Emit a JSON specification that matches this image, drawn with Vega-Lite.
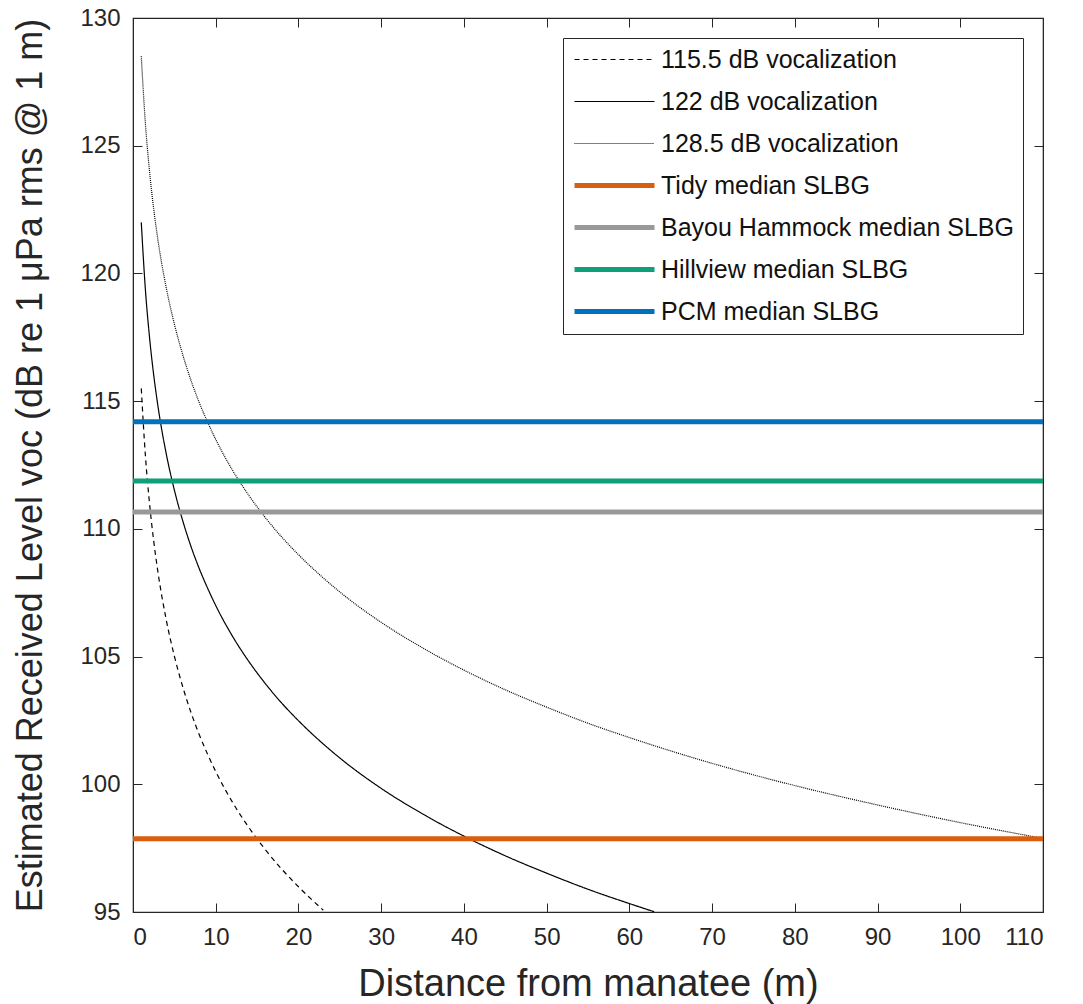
{
  "$schema": "https://vega.github.io/schema/vega-lite/v6.json",
  "width": 910,
  "height": 894,
  "autosize": "none",
  "padding": {"left": 133, "top": 18, "right": 40, "bottom": 92},
  "background": "white",
  "config": {
    "font": "Liberation Sans",
    "view": {"stroke": "#262626", "strokeWidth": 1.2},
    "axis": {
      "grid": false,
      "domainColor": "#262626",
      "tickColor": "#262626",
      "labelColor": "#262626",
      "titleColor": "#262626",
      "labelFontSize": 24,
      "titleFontSize": 36,
      "titleFontWeight": "normal",
      "tickSize": -9,
      "labelPadding": 22
    },
    "legend": {
      "labelFontSize": 25,
      "labelColor": "#111",
      "symbolType": "M-1,0H7",
      "symbolSize": 400,
      "labelOffset": 64,
      "strokeColor": "#262626",
      "fillColor": "white",
      "padding": 9,
      "rowPadding": 16,
      "labelLimit": 500,
      "orient": "top-right",
      "offset": 20
    }
  },
  "datasets": {
    "curves": [
      {"series": "115.5 dB vocalization", "r": 1, "level": 115.5},
      {"series": "115.5 dB vocalization", "r": 1.5, "level": 112.86},
      {"series": "115.5 dB vocalization", "r": 2, "level": 110.99},
      {"series": "115.5 dB vocalization", "r": 2.5, "level": 109.53},
      {"series": "115.5 dB vocalization", "r": 3, "level": 108.34},
      {"series": "115.5 dB vocalization", "r": 4, "level": 106.47},
      {"series": "115.5 dB vocalization", "r": 5, "level": 105.02},
      {"series": "115.5 dB vocalization", "r": 6, "level": 103.83},
      {"series": "115.5 dB vocalization", "r": 7, "level": 102.82},
      {"series": "115.5 dB vocalization", "r": 8, "level": 101.95},
      {"series": "115.5 dB vocalization", "r": 9, "level": 101.19},
      {"series": "115.5 dB vocalization", "r": 10, "level": 100.5},
      {"series": "115.5 dB vocalization", "r": 12, "level": 99.31},
      {"series": "115.5 dB vocalization", "r": 14, "level": 98.31},
      {"series": "115.5 dB vocalization", "r": 16, "level": 97.44},
      {"series": "115.5 dB vocalization", "r": 18, "level": 96.67},
      {"series": "115.5 dB vocalization", "r": 20, "level": 95.99},
      {"series": "115.5 dB vocalization", "r": 23, "level": 95.07},
      {"series": "122  dB vocalization", "r": 1, "level": 122},
      {"series": "122  dB vocalization", "r": 1.5, "level": 119.36},
      {"series": "122  dB vocalization", "r": 2, "level": 117.49},
      {"series": "122  dB vocalization", "r": 2.5, "level": 116.03},
      {"series": "122  dB vocalization", "r": 3, "level": 114.84},
      {"series": "122  dB vocalization", "r": 4, "level": 112.97},
      {"series": "122  dB vocalization", "r": 5, "level": 111.52},
      {"series": "122  dB vocalization", "r": 6, "level": 110.33},
      {"series": "122  dB vocalization", "r": 7, "level": 109.32},
      {"series": "122  dB vocalization", "r": 8, "level": 108.45},
      {"series": "122  dB vocalization", "r": 9, "level": 107.69},
      {"series": "122  dB vocalization", "r": 10, "level": 107.0},
      {"series": "122  dB vocalization", "r": 12, "level": 105.81},
      {"series": "122  dB vocalization", "r": 14, "level": 104.81},
      {"series": "122  dB vocalization", "r": 16, "level": 103.94},
      {"series": "122  dB vocalization", "r": 18, "level": 103.17},
      {"series": "122  dB vocalization", "r": 20, "level": 102.49},
      {"series": "122  dB vocalization", "r": 25, "level": 101.03},
      {"series": "122  dB vocalization", "r": 30, "level": 99.84},
      {"series": "122  dB vocalization", "r": 35, "level": 98.84},
      {"series": "122  dB vocalization", "r": 40, "level": 97.97},
      {"series": "122  dB vocalization", "r": 45, "level": 97.2},
      {"series": "122  dB vocalization", "r": 50, "level": 96.52},
      {"series": "122  dB vocalization", "r": 55, "level": 95.89},
      {"series": "122  dB vocalization", "r": 60, "level": 95.33},
      {"series": "122  dB vocalization", "r": 63, "level": 95.01},
      {"series": "128.5  dB vocalization", "r": 1, "level": 128.5},
      {"series": "128.5  dB vocalization", "r": 1.5, "level": 125.86},
      {"series": "128.5  dB vocalization", "r": 2, "level": 123.99},
      {"series": "128.5  dB vocalization", "r": 2.5, "level": 122.53},
      {"series": "128.5  dB vocalization", "r": 3, "level": 121.34},
      {"series": "128.5  dB vocalization", "r": 4, "level": 119.47},
      {"series": "128.5  dB vocalization", "r": 5, "level": 118.02},
      {"series": "128.5  dB vocalization", "r": 6, "level": 116.83},
      {"series": "128.5  dB vocalization", "r": 7, "level": 115.82},
      {"series": "128.5  dB vocalization", "r": 8, "level": 114.95},
      {"series": "128.5  dB vocalization", "r": 9, "level": 114.19},
      {"series": "128.5  dB vocalization", "r": 10, "level": 113.5},
      {"series": "128.5  dB vocalization", "r": 12, "level": 112.31},
      {"series": "128.5  dB vocalization", "r": 14, "level": 111.31},
      {"series": "128.5  dB vocalization", "r": 16, "level": 110.44},
      {"series": "128.5  dB vocalization", "r": 18, "level": 109.67},
      {"series": "128.5  dB vocalization", "r": 20, "level": 108.99},
      {"series": "128.5  dB vocalization", "r": 25, "level": 107.53},
      {"series": "128.5  dB vocalization", "r": 30, "level": 106.34},
      {"series": "128.5  dB vocalization", "r": 35, "level": 105.34},
      {"series": "128.5  dB vocalization", "r": 40, "level": 104.47},
      {"series": "128.5  dB vocalization", "r": 45, "level": 103.7},
      {"series": "128.5  dB vocalization", "r": 50, "level": 103.02},
      {"series": "128.5  dB vocalization", "r": 55, "level": 102.39},
      {"series": "128.5  dB vocalization", "r": 60, "level": 101.83},
      {"series": "128.5  dB vocalization", "r": 70, "level": 100.82},
      {"series": "128.5  dB vocalization", "r": 80, "level": 99.95},
      {"series": "128.5  dB vocalization", "r": 90, "level": 99.19},
      {"series": "128.5  dB vocalization", "r": 100, "level": 98.5},
      {"series": "128.5  dB vocalization", "r": 110, "level": 97.88}
    ],
    "medians": [
      {"series": "Tidy median SLBG", "level": 97.87},
      {"series": "Bayou Hammock median SLBG", "level": 110.66},
      {"series": "Hillview median SLBG", "level": 111.87},
      {"series": "PCM median SLBG", "level": 114.19}
    ]
  },
  "resolve": {"axis": {"x": "independent", "y": "independent"}},
  "layer": [
    {
      "data": {"name": "curves"},
      "mark": {"type": "line", "interpolate": "monotone", "clip": true, "strokeWidth": 1.2},
      "encoding": {
        "x": {"field": "r", "type": "quantitative", "scale": {"domain": [0, 110], "nice": false},
              "axis": {"values": [0,10,20,30,40,50,60,70,80,90,100,110], "title": "Distance from manatee (m)", "titlePadding": 16, "titleFontSize": 38}},
        "y": {"field": "level", "type": "quantitative", "scale": {"domain": [95, 130], "nice": false},
              "axis": {"values": [95,100,105,110,115,120,125,130], "title": "Estimated Received Level voc (dB re 1 μPa rms @ 1 m)", "titlePadding": 30}},
        "color": {"field": "series", "type": "nominal", "title": null,
          "scale": {
            "domain": ["115.5 dB vocalization", "122  dB vocalization", "128.5  dB vocalization", "Tidy median SLBG", "Bayou Hammock median SLBG", "Hillview median SLBG", "PCM median SLBG"],
            "range": ["#000000", "#000000", "#000000", "#D95F0E", "#999999", "#0FA07A", "#0072BD"]
          },
          "legend": {"encode": {"symbols": {"update": {"strokeWidth": {"signal": "(datum.index || 0) >= 3 ? 5 : 1.2"}}}}}
        },
        "strokeDash": {"field": "series", "type": "nominal", "title": null,
          "scale": {
            "domain": ["115.5 dB vocalization", "122  dB vocalization", "128.5  dB vocalization", "Tidy median SLBG", "Bayou Hammock median SLBG", "Hillview median SLBG", "PCM median SLBG"],
            "range": [[5, 4], [1, 0], [1, 1], [1, 0], [1, 0], [1, 0], [1, 0]]
          }
        }
      }
    },
    {
      "data": {"name": "medians"},
      "mark": {"type": "rule", "clip": true, "strokeWidth": 5},
      "encoding": {
        "y": {"field": "level", "type": "quantitative", "scale": {"domain": [95, 130], "nice": false}, "axis": null},
        "color": {"field": "series", "type": "nominal", "title": null},
        "strokeDash": {"field": "series", "type": "nominal", "title": null}
      }
    },
    {
      "data": {"name": "curves"},
      "mark": {"type": "point", "opacity": 0},
      "encoding": {
        "x": {"field": "r", "type": "quantitative", "scale": {"domain": [0, 110], "nice": false},
              "axis": {"orient": "top", "values": [0,10,20,30,40,50,60,70,80,90,100,110], "labels": false, "title": null}},
        "y": {"field": "level", "type": "quantitative", "scale": {"domain": [95, 130], "nice": false},
              "axis": {"orient": "right", "values": [95,100,105,110,115,120,125,130], "labels": false, "title": null}}
      }
    }
  ]
}
